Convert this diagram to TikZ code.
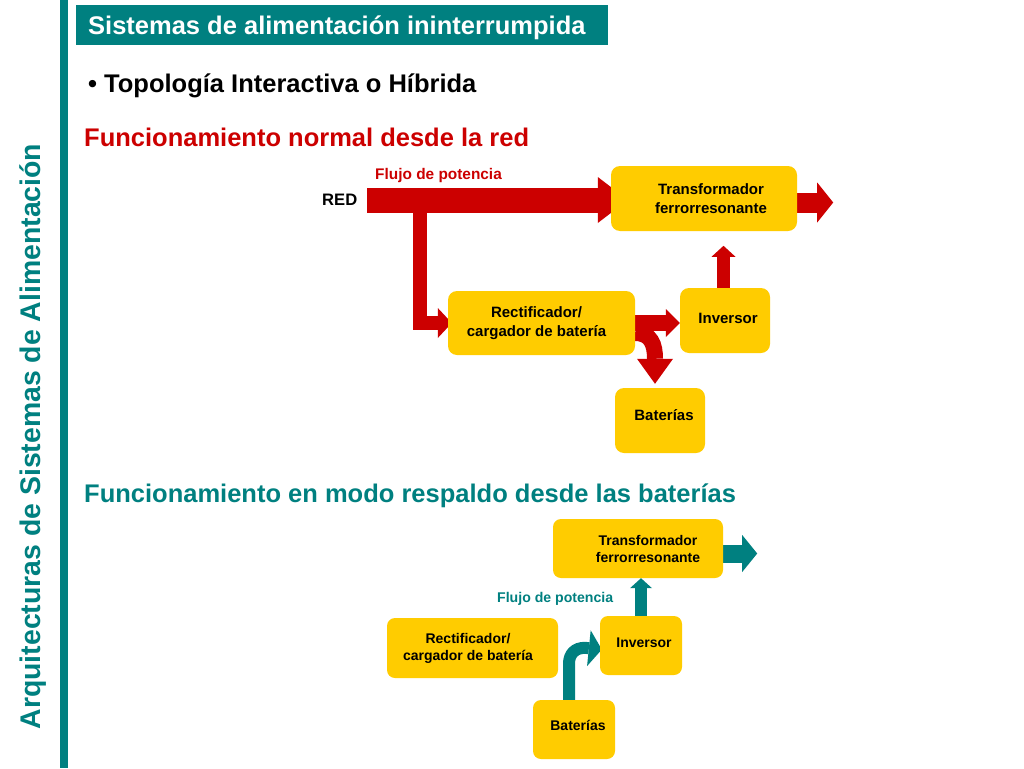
\documentclass[tikz,border=0pt]{standalone}
\usepackage{fontspec}
\setmainfont{Liberation Sans}
\usetikzlibrary{arrows.meta,calc,backgrounds}
\definecolor{teal0}{RGB}{0,128,128}
\definecolor{red0}{RGB}{204,0,0}
\definecolor{yel0}{RGB}{255,204,0}
\begin{document}
\begin{tikzpicture}[x=1pt,y=-1pt,
  box/.style={fill=yel0, rounded corners=9pt, inner sep=0pt, align=center, text=black,
    font=\fontsize{15}{19}\selectfont\bfseries},
  boxs/.style={box, rounded corners=8pt, font=\fontsize{14}{17}\selectfont\bfseries},
  heading/.style={font=\fontsize{25.5}{30}\selectfont\bfseries, anchor=base west, inner sep=0pt},
  lbl/.style={font=\fontsize{15.4}{18}\selectfont\bfseries, anchor=base west, inner sep=0pt},
  flow/.style={line cap=butt, line join=miter},
]
\useasboundingbox (0,0) rectangle (1024,768);
% decorative bars
\fill[teal0] (60,0) rectangle (68,768);
\fill[teal0] (76,5) rectangle (608,45);
% texts
\node[heading, text=white] (title) at (88,34.5) {Sistemas de alimentación ininterrumpida};
\node[heading] (topo) at (88,92) {• Topología Interactiva o Híbrida};
\node[heading, text=red0] (h1) at (84,146) {Funcionamiento normal desde la red};
\node[heading, text=teal0] (h2) at (84,502) {Funcionamiento en modo respaldo desde las baterías};
\node[font=\fontsize{28.4}{34}\selectfont\bfseries, text=teal0, rotate=90, anchor=base, inner sep=0pt]
  (side) at (40,436.5) {Arquitecturas de Sistemas de Alimentación};
\node[lbl, text=red0] (flujo1) at (375,179.5) {Flujo de potencia};
\node[lbl, font=\fontsize{16.6}{19}\selectfont\bfseries] (red) at (322,205) {RED};
\node[lbl, text=teal0, font=\fontsize{14.1}{17}\selectfont\bfseries] (flujo2) at (497,602) {Flujo de potencia};
% top diagram boxes
\node[box, minimum width=186pt, minimum height=65pt] (trans) at (704,198.5) {\hspace*{14pt}Transformador\\\hspace*{14pt}ferrorresonante};
\node[box, minimum width=187pt, minimum height=64pt] (rect) at (541.5,323) {Rectificador/\hspace*{10pt}\\cargador de batería\hspace*{10pt}};
\node[box, minimum width=90pt, minimum height=65pt] (inv) at (725,320.5) {\raisebox{5pt}{\hspace*{6pt}Inversor}};
\node[box, minimum width=90pt, minimum height=65pt] (bat) at (660,420.5) {\raisebox{11pt}{\hspace*{8pt}Baterías}};
% bottom diagram boxes
\node[boxs, minimum width=170pt, minimum height=59pt] (trans2) at (638,548.5) {\hspace*{20pt}Transformador\\\hspace*{20pt}ferrorresonante};
\node[boxs, minimum width=171pt, minimum height=60pt] (rect2) at (472.5,648) {Rectificador/\hspace*{9pt}\\cargador de batería\hspace*{9pt}};
\node[boxs, minimum width=82pt, minimum height=59pt] (inv2) at (641,645.5) {\raisebox{5pt}{\hspace*{6pt}Inversor}};
\node[boxs, minimum width=82pt, minimum height=59pt] (bat2) at (574,729.5) {\raisebox{9pt}{\hspace*{8pt}Baterías}};
\begin{scope}[on background layer]
\fill[white] (0,0) rectangle (1024,768);
\coordinate (redstart) at (367,200);
\coordinate (branch) at (419.5,200);
% red flows
\draw[flow, red0, line width=25pt, -{Triangle[width=46pt,length=30pt,line width=0pt]}]
  (redstart) -- ($(trans.west |- redstart)+(17,0)$);
\draw[flow, red0, line width=14pt, -{Triangle[width=30pt,length=14pt,line width=0pt]}]
  (branch) |- ($(rect.west)+(4,0)$);
\draw[flow, red0, line width=16pt, -{Triangle[width=28pt,length=14pt,line width=0pt]}]
  (rect.east) -- (rect.east -| inv.west);
\draw[flow, red0, line width=16pt, -{Triangle[width=36pt,length=25pt,line width=0pt]}]
  ($(rect.east)+(0,10)$) .. controls +(16,0) and +(0,-14) .. ($(bat.north)+(-5,-29)$) -- ($(bat.north)+(-5,-4)$);
\draw[flow, red0, line width=13pt, -{Triangle[width=24pt,length=11pt,line width=0pt]}]
  ($(inv.north)+(-1.5,0)$) -- ($(inv.north)+(-1.5,-42)$);
\draw[flow, red0, line width=20pt, -{Triangle[width=40pt,length=16pt,line width=0pt]}]
  ($(trans.east)+(0,4)$) -- ($(trans.east)+(36,4)$);
% teal flows
\draw[flow, teal0, line width=18pt, -{Triangle[width=37pt,length=15pt,line width=0pt]}]
  ($(trans2.east)+(0,5)$) -- ($(trans2.east)+(34,5)$);
\draw[flow, teal0, line width=12pt, -{Triangle[width=22pt,length=10pt,line width=0pt]}]
  (inv2.north) -- (inv2.north |- trans2.south);
\draw[flow, teal0, line width=12pt, -{Triangle[width=36pt,length=13pt,line width=0pt]}]
  ($(bat2.north)+(-5,0)$) -- ++(0,-36) .. controls +(0,-10) and +(-10,0) .. ++(16,-16) -- ($(inv2.west)+(2,4)$);
\end{scope}
\end{tikzpicture}
\end{document}
